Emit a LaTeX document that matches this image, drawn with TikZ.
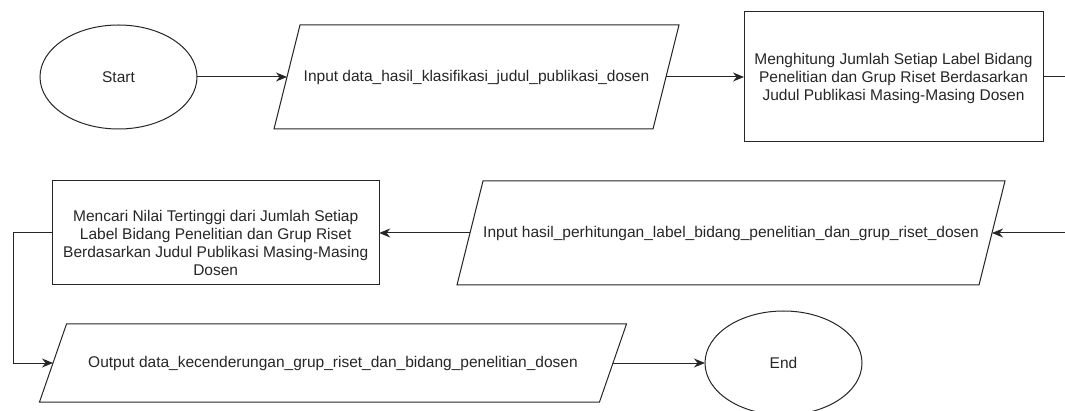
\documentclass[tikz,border=0pt]{standalone}
\usepackage{fontspec}
\setmainfont{Liberation Sans}
\usetikzlibrary{shapes.geometric,arrows.meta}
\definecolor{ink}{HTML}{262626}
\tikzset{
  base/.style={draw=ink, line width=1pt, text=ink, inner sep=0pt, outer sep=0pt,
    font=\fontsize{15.5}{18}\selectfont, align=center},
  term/.style={base, ellipse, minimum width=157pt, minimum height=104pt},
  proc/.style={base, rectangle},
  % the text body of a data (input/output) block; its outline is drawn separately
  io/.style={base, draw=none, rectangle},
  outline/.style={draw=ink, line width=1pt, line join=miter},
  link/.style={draw=ink, line width=1pt, -{Stealth[length=11pt,width=9pt,inset=3.5pt]}}
}
% slanted outline round a data block: #1 node name, #2 half the slant offset
\newcommand\slantbox[2]{%
  \draw[outline] ([xshift=-#2]#1.south west) -- ([xshift=#2]#1.north west)
    -- ([xshift=#2]#1.north east) -- ([xshift=-#2]#1.south east) -- cycle;}
\begin{document}
\begin{tikzpicture}[x=1pt,y=-1pt]
\useasboundingbox (0,0) rectangle (1065,411);
\clip (0,0) rectangle (1065,411);
% first row
\node[term] (start) at (118.5,77) {Start};
\node[io, minimum width=379pt, minimum height=104pt] (in1) at (476.5,77)
  {Input data\_hasil\_klasifikasi\_judul\_publikasi\_dosen};
\slantbox{in1}{13pt}
\node[proc, minimum width=299pt, minimum height=130pt] (count) at (893.5,77) {};
\node[base, draw=none] (counttxt) at (893.5,78.5)
  {Menghitung Jumlah Setiap Label Bidang\\Penelitian dan Grup Riset Berdasarkan\\Judul Publikasi Masing-Masing Dosen};
% second row
\node[io, minimum width=522pt, minimum height=104pt] (in2) at (731,233)
  {Input hasil\_perhitungan\_label\_bidang\_penelitian\_dan\_grup\_riset\_dosen};
\slantbox{in2}{13pt}
\node[proc, minimum width=327pt, minimum height=104pt] (max) at (215.7,233) {};
\node[base, draw=none] (maxtxt) at (215.7,242.5)
  {Mencari Nilai Tertinggi dari Jumlah Setiap\\Label Bidang Penelitian dan Grup Riset\\Berdasarkan Judul Publikasi Masing-Masing\\Dosen};
% third row
\node[io, minimum width=560pt, minimum height=78pt] (out) at (333,363)
  {Output data\_kecenderungan\_grup\_riset\_dan\_bidang\_penelitian\_dosen};
\slantbox{out}{13.5pt}
\node[term] (end) at (783.5,363) {End};
% connectors
\draw[link] (start.east) -- (in1.west);
\draw[link] (in1.east) -- (count.west);
\coordinate (turn) at (1100,0);
\draw[link] (count.east) -- (count.east -| turn) |- (in2.east);
\draw[link] (in2.west) -- (max.east);
\coordinate (back) at (13.3,0);
\draw[link] (max.west) -- (max.west -| back) |- (out.west);
\draw[link] (out.east) -- (end.west);
\end{tikzpicture}
\end{document}
